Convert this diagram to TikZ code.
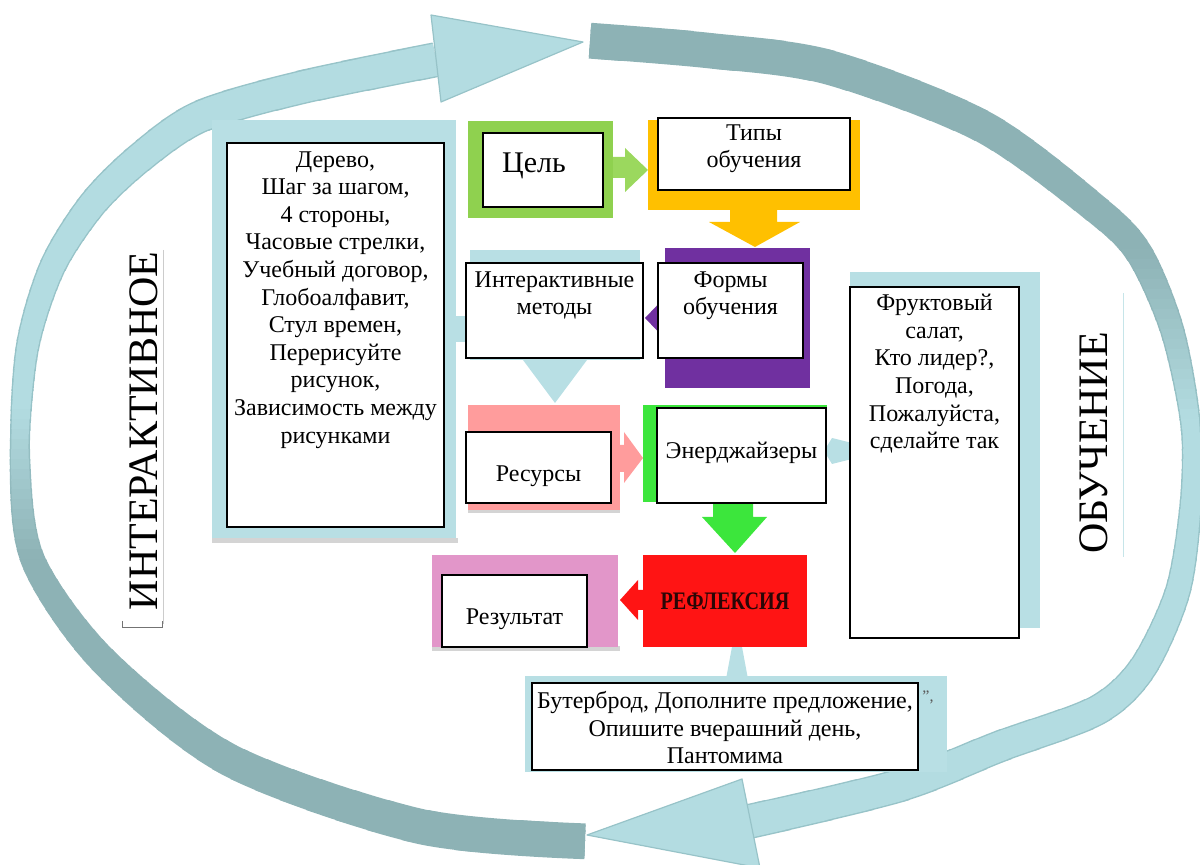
\documentclass[tikz,border=0pt]{standalone}
\usepackage{fontspec}
\setmainfont{Liberation Serif}
\usetikzlibrary{fit}
\definecolor{banddark}{HTML}{8DB2B5}
\definecolor{bandlight}{HTML}{B3DCE1}
\definecolor{bandedge}{HTML}{97C3C8}
\definecolor{lb}{HTML}{B8DFE4}
\definecolor{celgreen}{HTML}{8FD14F}
\definecolor{arrgreen}{HTML}{9BD85E}
\definecolor{ylw}{HTML}{FFC000}
\definecolor{prp}{HTML}{7030A0}
\definecolor{pnk}{HTML}{FF9C9C}
\definecolor{brgreen}{HTML}{3CE63C}
\definecolor{rd}{HTML}{FF1414}
\definecolor{orch}{HTML}{E296C9}
\definecolor{shd}{HTML}{D4D4D4}
\definecolor{reftext}{HTML}{2A0606}
\tikzset{
  headsty/.style={fill=bandlight, draw=bandedge, line width=0.3pt, line join=round},
  panel/.style={inner sep=0pt, outer sep=0pt, draw=none},
  wbox/.style={inner sep=0pt, outer sep=0pt, draw=black, line width=0.45pt, fill=white},
  txt/.style={inner sep=0pt, align=center, font=\fontsize{6}{6.9}\selectfont},
  vtxt/.style={inner sep=0pt, rotate=90, anchor=base, font=\fontsize{10.5}{12}\selectfont},
}
\def\arcApath{plot[smooth] coordinates {(590,41) (710,51) (830,68) (983,127) (1098,211) (1140,255) (1172,330) (1190,420) (1191,500) (1178,590) (1143,667) (1097,710) (1000,746) (900,785) (750,821)}}
\def\arcBpath{plot[smooth] coordinates {(585,841) (420,826) (230,760) (103,660) (33,560) (20,460) (27,350) (52,268) (92,205) (140,158) (200,117) (300,88) (436,60)}}
\begin{document}
\begin{tikzpicture}[x=0.25pt,y=-0.25pt]
\useasboundingbox (0,0) rectangle (1200,865);
\clip (0,0) rectangle (1200,865);

% ---- big curved arrows (gradient by horizontal strips) ----
\foreach \k in {0,...,86}{
  \pgfmathsetmacro\ya{\k*10}
  \pgfmathsetmacro\yb{\k*10+11}
  \pgfmathsetmacro\yc{\k*10+5}
  \pgfmathtruncatemacro\pa{min(100,max(0,(\yc-250)/1.7))}
  \pgfmathtruncatemacro\pb{min(100,max(0,(560-\yc)/1.5))}
  \pgfmathsetlengthmacro\wi{0.5*(8.5+8*abs(\yc-441)/400)}
  \pgfmathsetlengthmacro\we{0.5*(8.5+8*abs(\yc-441)/400)+0.7}
  \begin{scope}
    \clip (586,\ya) rectangle (1200,\yb);
    \draw[line width=\we, bandedge!\pa!banddark] \arcApath;
    \draw[line width=\wi, bandlight!\pa!banddark] \arcApath;
  \end{scope}
  \begin{scope}
    \clip (0,\ya) rectangle (588,\yb);
    \draw[line width=\we, bandedge!\pb!banddark] \arcBpath;
    \draw[line width=\wi, bandlight!\pb!banddark] \arcBpath;
  \end{scope}
}
\coordinate (headAtip) at (587,835);
\coordinate (headBtip) at (583,42);
\path[headsty] (742,779) -- (headAtip) -- (760,868) -- cycle;
\path[headsty] (431,15) -- (headBtip) -- (441,102) -- cycle;

% ---- vertical label strips ----
\draw[black!20, line width=0.2pt] (163,250) -- (163,624);
\draw[black!55, line width=0.2pt] (122,621) -- (122,627) -- (162,627) -- (162,621);
\draw[lb!80, line width=0.2pt] (1123,293) -- (1123,557);
\node[vtxt] (vint) at (157,431) {ИНТЕРАКТИВНОЕ};
\node[vtxt] (vobu) at (1107,443) {ОБУЧЕНИЕ};

% ---- shadows ----
\fill[shd] (212,538) rectangle (458,543);
\fill[shd] (468,509) rectangle (620,513);
\fill[shd] (432,646) rectangle (620,651);

% ---- small block arrows ----
\fill[arrgreen] (610,157) -- (625,157) -- (625,148) -- (648,170) -- (625,192) -- (625,178) -- (610,178) -- cycle;
\fill[ylw] (730,205) -- (777,205) -- (777,222) -- (800,222) -- (755,247) -- (709,222) -- (730,222) -- cycle;
\fill[prp] (668,294) -- (645,318) -- (668,342) -- cycle;
\fill[lb] (520,356) -- (590,356) -- (555,403) -- cycle;
\fill[lb] (450,316) rectangle (472,342);
\fill[pnk] (615,445) -- (624,445) -- (624,432) -- (643,458) -- (624,483) -- (624,472) -- (615,472) -- cycle;
\fill[brgreen] (713,500) -- (753,500) -- (753,517) -- (767,517) -- (735,553) -- (702,517) -- (713,517) -- cycle;
\fill[rd] (646,590) -- (638,590) -- (638,580) -- (620,600) -- (638,620) -- (638,610) -- (646,610) -- cycle;
\fill[lb] (726,679) -- (748,679) -- (737,620) -- cycle;
\fill[lb] (852,443) -- (832,438) -- (824,451) -- (832,464) -- (852,459) -- cycle;

% ---- coloured panels ----
\node[panel, fill=lb, fit={(212,120) (456,538)}] (plft) {};
\node[panel, fill=celgreen, fit={(468,121) (613,218)}] (pcel) {};
\node[panel, fill=ylw, fit={(648,120) (860,210)}] (ptip) {};
\node[panel, fill=prp, fit={(665,248) (810,388)}] (pfor) {};
\node[panel, fill=lb, fit={(470,250) (640,360)}] (pint) {};
\node[panel, fill=pnk, fit={(468,405) (620,510)}] (pres) {};
\node[panel, fill=brgreen, fit={(643,405) (827,502)}] (pene) {};
\node[panel, fill=rd, fit={(643,555) (807,647)}] (pref) {};
\node[panel, fill=orch, fit={(432,555) (618,647)}] (prez) {};
\node[panel, fill=lb, fit={(525,676) (947,772)}] (pbot) {};
\node[panel, fill=lb, fit={(850,272) (1040,628)}] (pfru) {};

% ---- white boxes ----
\node[wbox, fit={(227,143) (444,527)}] (blft) {};
\node[wbox, fit={(483,133) (603,207)}] (bcel) {};
\node[wbox, fit={(658,118) (850,190)}] (btip) {};
\node[wbox, fit={(466,263) (643,358)}] (bint) {};
\node[wbox, fit={(658,263) (803,358)}] (bfor) {};
\node[wbox, fit={(466,432) (611,503)}] (bres) {};
\node[wbox, fit={(657,408) (826,503)}] (bene) {};
\node[wbox, fit={(442,575) (587,647)}] (brez) {};
\node[wbox, fit={(532,683) (918,770)}] (bbot) {};
\node[wbox, fit={(850,287) (1019,638)}] (bfru) {};

% ---- texts ----
\node[txt, anchor=north] (tlft) at (335.5,150.5) {Дерево,\\Шаг за шагом,\\4 стороны,\\Часовые стрелки,\\Учебный договор,\\Глобоалфавит,\\Стул времен,\\Перерисуйте\\рисунок,\\Зависимость между\\рисунками};
\node[inner sep=0pt, anchor=base, font=\fontsize{7.5}{8.5}\selectfont] (tcel) at (534,173) {Цель};
\node[txt, anchor=north] (ttip) at (754,123.5) {Типы\\обучения};
\node[txt, anchor=north] (tint) at (554.5,270.5) {Интерактивные\\методы};
\node[txt, anchor=north] (tfor) at (730.5,270.5) {Формы\\обучения};
\node[txt, anchor=base] (tres) at (538.5,481.5) {Ресурсы};
\node[txt, anchor=base] (tene) at (741.5,458.5) {Энерджайзеры};
\node[txt, anchor=base] (trez) at (514.5,624.5) {Результат};
\node[inner sep=0pt, anchor=base, text=reftext, font=\fontsize{6.3}{7}\bfseries] (tref) at (725,610) {\scalebox{0.8}[1]{РЕФЛЕКСИЯ}};
\node[txt, anchor=north] (tbot) at (725,690.5) {Бутерброд, Дополните предложение,\\Опишите вчерашний день,\\Пантомима};
\node[txt, anchor=north] (tfru) at (934.5,293.5) {Фруктовый\\салат,\\Кто лидер?,\\Погода,\\Пожалуйста,\\сделайте так};
\node[inner sep=0pt, text=black!65, font=\fontsize{4}{4}\selectfont] (tresid) at (928,697) {”,};
\end{tikzpicture}
\end{document}
